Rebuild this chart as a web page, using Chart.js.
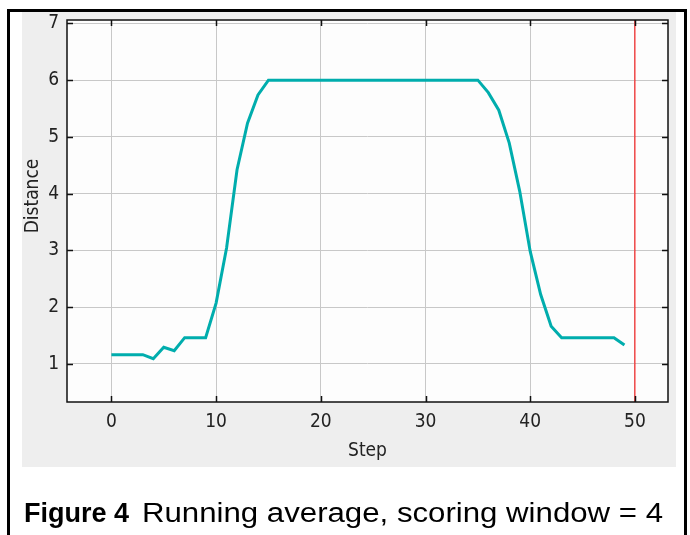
<!DOCTYPE html>
<html>
<head>
<meta charset="utf-8">
<script src="https://cdn.jsdelivr.net/npm/chart.js@4.4.0/dist/chart.umd.min.js"></script>
<style>
  html, body { margin: 0; padding: 0; background: #ffffff; }
  #wrap { width: 690px; height: 535px; position: relative; }
</style>
</head>
<body>
<div id="wrap"><canvas id="distChart" width="690" height="535"></canvas></div>
<script>
// Running average distance per step
const steps = [0, 1, 2, 3, 4, 5, 6, 7, 8, 9,
    10, 11, 12, 13, 14, 15, 16, 17, 18, 19,
    20, 21, 22, 23, 24, 25, 26, 27, 28, 29,
    30, 31, 32, 33, 34, 35, 36, 37, 38, 39,
    40, 41, 42, 43, 44, 45, 46, 47, 48, 49];
const distance = [1.16, 1.16, 1.16, 1.16, 1.09, 1.29, 1.23, 1.46, 1.46, 1.46,
    2.07, 3.04, 4.42, 5.24, 5.74, 6.0, 6.0, 6.0, 6.0, 6.0,
    6.0, 6.0, 6.0, 6.0, 6.0, 6.0, 6.0, 6.0, 6.0, 6.0,
    6.0, 6.0, 6.0, 6.0, 6.0, 6.0, 5.78, 5.47, 4.89, 4.04,
    2.98, 2.22, 1.66, 1.46, 1.46, 1.46, 1.46, 1.46, 1.46, 1.33];
const xTicks = [0, 10, 20, 30, 40, 50];
const yTicks = [1, 2, 3, 4, 5, 6, 7];
const markerStep = 50;
const yTitle = 'Distance';
const xTitle = 'Step';
const captionBold = 'Figure 4';
const captionText = 'Running average, scoring window = 4';

const narrow = "'Liberation Sans Narrow', 'DejaVu Sans Condensed', sans-serif";
const tickFont = { family: narrow, size: 19 };

// page frame, grey panel, inward tick marks, y title and caption
const decor = {
    id: 'decor',
    beforeDraw(chart) {
        const ctx = chart.ctx;
        const a = chart.chartArea;
        ctx.save();
        ctx.fillStyle = '#ffffff';
        ctx.fillRect(0, 0, 690, 535);
        ctx.fillStyle = '#000000';
        ctx.fillRect(7, 9, 680, 3);
        ctx.fillRect(7, 9, 3, 526);
        ctx.fillRect(684, 9, 3, 526);
        ctx.fillStyle = '#eeeeee';
        ctx.fillRect(22, 12, 654, 455);
        ctx.fillStyle = '#fdfdfd';
        ctx.fillRect(a.left, a.top, a.right - a.left, a.bottom - a.top);
        ctx.restore();
    },
    afterDraw(chart) {
        const ctx = chart.ctx;
        const a = chart.chartArea;
        const xs = chart.scales.x, ys = chart.scales.y;
        ctx.save();
        ctx.strokeStyle = '#111111';
        ctx.lineWidth = 1.5;
        ctx.strokeRect(a.left, a.top, a.right - a.left, a.bottom - a.top);
        ctx.beginPath();
        yTicks.forEach(v => {
            const py = Math.round(ys.getPixelForValue(v)) + 0.5;
            ctx.moveTo(a.left, py); ctx.lineTo(a.left + 6, py);
            ctx.moveTo(a.right, py); ctx.lineTo(a.right - 6, py);
        });
        xTicks.forEach(v => {
            const px = Math.round(xs.getPixelForValue(v)) + 0.5;
            ctx.moveTo(px, a.bottom); ctx.lineTo(px, a.bottom - 6);
            ctx.moveTo(px, a.top); ctx.lineTo(px, a.top + 6);
        });
        ctx.stroke();

        ctx.fillStyle = '#222222';
        ctx.font = '19px ' + narrow;
        ctx.textAlign = 'center';
        ctx.textBaseline = 'middle';
        ctx.translate(33, 196);
        ctx.rotate(-Math.PI / 2);
        ctx.fillText(yTitle, 0, 0);
        ctx.restore();

        // caption below the panel
        ctx.save();
        ctx.fillStyle = '#000000';
        ctx.textBaseline = 'alphabetic';
        ctx.textAlign = 'left';
        ctx.font = "bold 27px 'Liberation Sans', Arial, sans-serif";
        ctx.fillText(captionBold, 24, 522);
        ctx.font = "27px 'Liberation Sans', Arial, sans-serif";
        const w = ctx.measureText(captionText).width;
        const startX = 142, endX = 663;
        ctx.translate(startX, 522);
        ctx.scale((endX - startX) / w, 1);
        ctx.fillText(captionText, 0, 0);
        ctx.restore();
    }
};

const ctx = document.getElementById('distChart').getContext('2d');
const distChart = new Chart(ctx, {
    type: 'line',
    data: {
        datasets: [{
            label: 'Running average',
            data: steps.map((s, i) => ({ x: s, y: distance[i] })),
            borderColor: '#00adad',
            borderWidth: 3,
            pointRadius: 0,
            fill: false,
            tension: 0,
            order: 1
        }, {
            label: 'Current step',
            data: [{ x: markerStep, y: 0 }, { x: markerStep, y: 8 }],
            borderColor: '#ff0000',
            borderWidth: 1,
            pointRadius: 0,
            fill: false,
            order: 2
        }]
    },
    options: {
        responsive: false,
        animation: false,
        layout: { padding: { left: 22, right: 22, top: 20, bottom: 68 } },
        plugins: { legend: { display: false }, tooltip: { enabled: false } },
        scales: {
            x: {
                type: 'linear',
                min: -4.24,
                max: 53.16,
                afterBuildTicks: s => { s.ticks = xTicks.map(v => ({ value: v })); },
                afterFit: s => { s.height = 65; },
                ticks: { font: tickFont, color: '#222222', padding: 9, maxRotation: 0 },
                grid: { color: '#c8c8c8', lineWidth: 1, drawTicks: false },
                border: { display: false },
                title: { display: true, text: xTitle, font: tickFont, color: '#222222', padding: { top: 0, bottom: 5 } }
            },
            y: {
                min: 0.326,
                max: 7.06,
                afterBuildTicks: s => { s.ticks = yTicks.map(v => ({ value: v })); },
                afterFit: s => { s.width = 45; },
                ticks: { font: tickFont, color: '#222222', padding: 8 },
                grid: { color: '#c8c8c8', lineWidth: 1, drawTicks: false },
                border: { display: false }
            }
        }
    },
    plugins: [decor]
});
</script>
</body>
</html>
